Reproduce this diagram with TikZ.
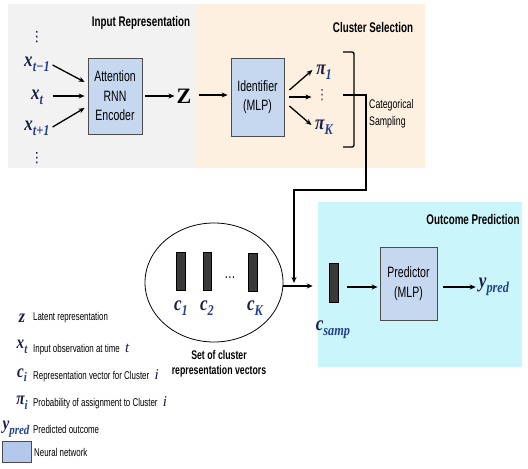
\documentclass[tikz,border=0pt]{standalone}
\usepackage{amsmath}
\usepackage{fontspec}
\setmainfont[FakeStretch=0.7]{Liberation Sans}
\newfontfamily\mfont{Liberation Serif}
\newfontfamily\dotfont{DejaVu Sans}
\usetikzlibrary{arrows.meta,calc,shapes.geometric}
\definecolor{panelgray}{HTML}{F2F2F2}
\definecolor{panelpeach}{HTML}{FDF0E1}
\definecolor{panelcyan}{HTML}{C9F5FB}
\definecolor{nnblue}{HTML}{C6D8EF}
\definecolor{legblue}{HTML}{B4C7EC}
\definecolor{mnavy}{HTML}{1A1E45}
\definecolor{msub}{HTML}{22418A}
\definecolor{bardark}{HTML}{3A3A3A}
\newcommand{\mv}[2]{\scalebox{0.95}[1.15]{\mbox{\mfont\bfseries\itshape\color{mnavy}#1\raisebox{-0.25em}{\scalebox{0.72}{\color{msub}#2}}}}}
\newcommand{\mi}[1]{{\mfont\itshape\color{mnavy}#1}}
\tikzset{
  nnbox/.style={draw=black!70, line width=0.8pt, fill=nnblue, align=center,
    font=\fontsize{15}{19.5}\selectfont, inner sep=0pt},
  paneltitle/.style={font=\fontsize{14}{16}\selectfont\bfseries, inner sep=0pt},
  arr/.style={-{Stealth[length=6pt,width=5pt]}, line width=1.3pt},
  mlbl/.style={font=\fontsize{18}{20}\selectfont, inner sep=0pt},
  llbl/.style={font=\fontsize{16}{18}\selectfont, inner sep=0pt},
  legtxt/.style={font=\fontsize{11.3}{13}\selectfont, anchor=west, inner sep=0pt},
  vecbar/.style={fill=bardark, draw=black, line width=0.5pt, minimum width=9pt,
    minimum height=38pt, inner sep=0pt},
  vdotsnode/.style={font=\fontsize{14}{16}\selectfont\dotfont, inner sep=0pt, text=mnavy}
}
\begin{document}
\begin{tikzpicture}[x=1pt,y=-1pt]
\useasboundingbox (0,0) rectangle (528,469);
\fill[white] (0,0) rectangle (528,469);
% panels
\fill[panelgray] (8,4) rectangle (195,168);
\fill[panelpeach] (195,4) rectangle (425,168);
\fill[panelcyan] (318,202) rectangle (522,367);
\node[paneltitle] (t1) at (141,22.5) {Input Representation};
\node[paneltitle] (t2) at (373,27) {Cluster Selection};
\node[paneltitle] (t3) at (473,219) {Outcome Prediction};

% inputs
\node[vdotsnode] (vd1) at (37,37) {⋮};
\node[mlbl] (xtm1) at (37,64) {\mv{x}{t−1}};
\node[mlbl] (xt) at (37,97) {\mv{x}{t}};
\node[mlbl] (xtp1) at (37,128) {\mv{x}{t+1}};
\node[vdotsnode] (vd2) at (37,158) {⋮};

% encoder
\node[nnbox, minimum width=54pt, minimum height=76pt] (enc) at (115,96) {Attention\\RNN\\Encoder};
\draw[arr] ($(enc.west)+(-35,-31)$) -- ($(enc.west)+(-3,-14)$);
\draw[arr] ($(enc.west)+(-35,0)$) -- ($(enc.west)+(-3,0)$);
\draw[arr] ($(enc.west)+(-35,31)$) -- ($(enc.west)+(-3,12)$);

% Z
\node[inner sep=0pt, font=\fontsize{22}{22}\selectfont\mfont\bfseries] (z) at (184,96) {Z};
\draw[arr] ($(enc.east)+(3,0)$) -- ($(z.west)+(-2,0)$);

% identifier
\node[nnbox, minimum width=53pt, minimum height=78pt] (ident) at (257.5,97) {Identifier\\(MLP)};
\draw[arr] ($(z.east)+(7,-1)$) -- ($(ident.west)+(-3,-2)$);

\node[mlbl] (pi1) at (324,72) {\mv{π}{1}};
\node[vdotsnode, text=black!70] (vd3) at (322,95) {⋮};
\node[mlbl] (piK) at (324,127) {\mv{π}{K}};
\draw[arr] ($(ident.east)+(5,-7)$) -- ($(ident.east)+(28,-27)$);
\draw[arr] ($(ident.east)+(5,0)$) -- ($(ident.east)+(27,0)$);
\draw[arr] ($(ident.east)+(5,9)$) -- ($(ident.east)+(27,28)$);

% bracket and sampling path
\draw[line width=1.4pt, rounded corners=2pt] (343,52) -- (354,52) -- (354,147) -- (343,147);
\coordinate (bmid) at (343,95);
\node[font=\fontsize{12.5}{16.5}\selectfont, align=left, anchor=west, inner sep=0pt] (cat) at (369,114) {Categorical\\Sampling};

% cluster set
\node[draw, ellipse, line width=0.8pt, minimum width=138pt, minimum height=119pt, inner sep=0pt] (set) at (214,282.5) {};
\node[vecbar] (b1) at (180.5,271) {};
\node[vecbar, minimum width=8pt] (b2) at (207,271) {};
\node[font=\fontsize{16}{16}\selectfont, inner sep=0pt] (bdots) at (230,278) {…};
\node[vecbar] (bK) at (253,272) {};
\node[mlbl] (c1) at (181,308) {\mv{c}{1}};
\node[mlbl] (c2) at (207,308) {\mv{c}{2}};
\node[mlbl] (cK) at (255,308) {\mv{c}{K}};
\node[font=\fontsize{12.5}{15.5}\selectfont\bfseries, align=center, inner sep=0pt] (setlbl) at (219,364) {Set of cluster\\representation vectors};

% sampled vector
\node[vecbar, minimum height=39pt] (csamp) at (333.5,282.5) {};
\node[mlbl] (csamplbl) at (333,330) {\mv{c}{samp}};
\coordinate (samptip) at (294,283);
\draw[arr, line width=1.1pt] (bmid) -- (366,95) -- (366,190) -- (294,190) -- (samptip);
\draw[arr] ($(set.east)+(0,3.5)$) -- ($(csamp.west)+(-16,3.5)$);

% predictor
\node[nnbox, minimum width=57pt, minimum height=73pt] (pred) at (408.5,283.5) {Predictor\\(MLP)};
\draw[arr] ($(csamp.east)+(9,4.5)$) -- ($(pred.west)+(-2,3.5)$);
\node[mlbl] (ypred) at (494,287) {\mv{y}{pred}};
\draw[arr] ($(pred.east)+(6,3.5)$) -- ($(ypred.west)+(-3,0)$);

% legend
\node[llbl] (lz) at (22,318) {\scalebox{1}[1.15]{\mbox{\mfont\bfseries\itshape\color{mnavy}z}}};
\node[legtxt] (lzt) at (33,318) {Latent representation};
\node[llbl] (lx) at (22,347) {\mv{x}{t}};
\node[legtxt] (lxt) at (33,349) {Input observation at time \;{\fontsize{15}{15}\selectfont\mi{t}}};
\node[llbl] (lc) at (22,375) {\mv{c}{i}};
\node[legtxt] (lct) at (33,376) {Representation vector for Cluster \;{\fontsize{15}{15}\selectfont\mi{i}}};
\node[llbl] (lpi) at (22,403) {\mv{π}{i}};
\node[legtxt] (lpit) at (33,403) {Probability of assignment to Cluster \;{\fontsize{15}{15}\selectfont\mi{i}}};
\node[llbl] (ly) at (16,429) {\mv{y}{pred}};
\node[legtxt] (lyt) at (33,429) {Predicted outcome};
\node[draw=black!70, line width=0.6pt, fill=legblue, minimum width=29pt, minimum height=21pt, inner sep=0pt] (lnn) at (16.5,451.5) {};
\node[legtxt] (lnnt) at (34,452) {Neural network};
\end{tikzpicture}
\end{document}
